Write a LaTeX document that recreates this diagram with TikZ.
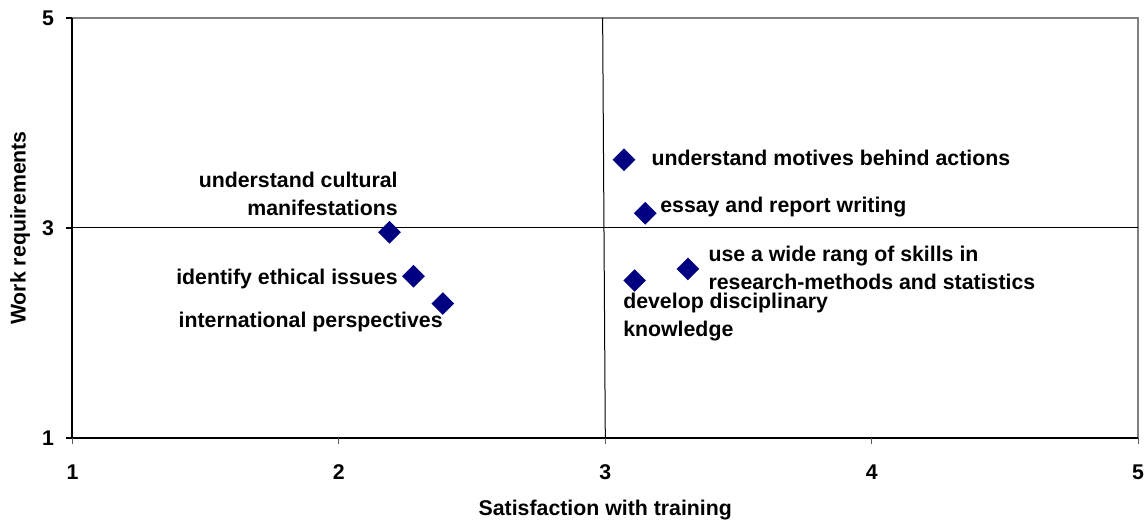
\documentclass[tikz,border=0pt]{standalone}
\usepackage{fontspec}
\setmainfont{Liberation Sans}
\usetikzlibrary{shapes.geometric}
\definecolor{navy}{RGB}{0,0,128}
\begin{document}
\begin{tikzpicture}[x=133.2pt,y=52.5pt,
  mark point/.style={diamond,fill=navy,inner sep=0pt,minimum width=11.5pt,minimum height=11.5pt},
  lbl/.style={font=\fontsize{10.65}{14}\selectfont\bfseries,inner sep=0pt,text=black}]
\useasboundingbox (0.7279,0.1714) rectangle (5.0259,5.1714);

% frame
\draw[gray,line width=1pt] (1,5) -| (5,1);
\draw[line width=1pt] (5,1) -| (1,5);
\foreach \x in {1,...,5}
  \draw[gray!70!black,line width=0.6pt] (\x,1) -- ++(0,-3pt) node[lbl,below=10pt] (xt\x) {\x};
\foreach \y in {1,3,5}
  \draw[line width=0.6pt] (1,\y) -- ++(-3pt,0) node[lbl,left=6pt] (yt\y) {\y};

% quadrants
\draw[line width=0.5pt] (1,3) -- (5,3);
\draw[line width=0.5pt] (2.99,5) -- (3,1);

% points
\node[mark point] (p1) at (3.07,3.65) {};
\node[mark point] (p2) at (3.15,3.14) {};
\node[mark point] (p3) at (3.31,2.61) {};
\node[mark point] (p4) at (3.11,2.50) {};
\node[mark point] (p5) at (2.19,2.96) {};
\node[mark point] (p6) at (2.28,2.54) {};
\node[mark point] (p7) at (2.39,2.28) {};

\node[lbl,anchor=west] (l1) at (3.172,3.667) {understand motives behind actions};
\node[lbl,anchor=west] (l2) at (3.205,3.20) {essay and report writing};
\node[lbl,anchor=west,align=left] (l3) at (3.386,2.62) {use a wide rang of skills in\\research-methods and statistics};
\node[lbl,anchor=west,align=left] (l4) at (3.066,2.15) {develop disciplinary\\knowledge};
\node[lbl,anchor=east,align=right] (l5) at (2.222,3.324) {understand cultural\\manifestations};
\node[lbl,anchor=east] (l6) at (2.222,2.51) {identify ethical issues};
\node[lbl,anchor=east] (l7) at (2.391,2.105) {international perspectives};

% axis titles
\node[lbl] (xtitle) at (3,0.314) {Satisfaction with training};
\node[lbl,rotate=90] (ytitle) at (0.803,3) {Work requirements};
\end{tikzpicture}
\end{document}
